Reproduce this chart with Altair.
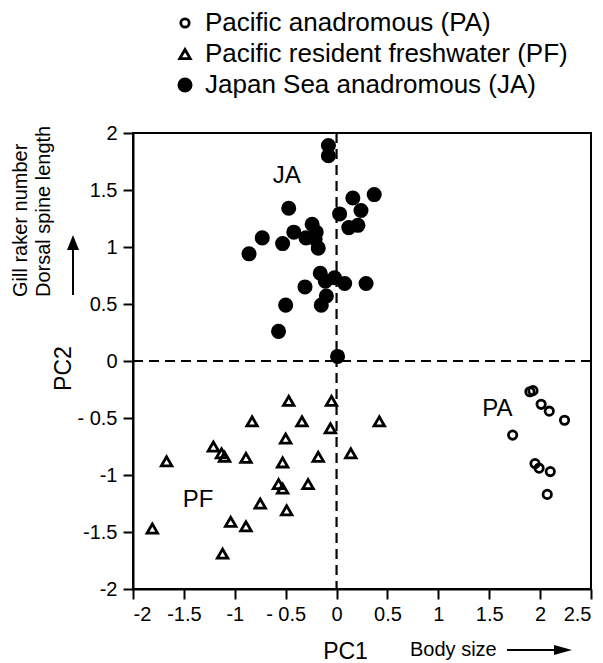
import altair as alt
import pandas as pd

# ---- data ----
groups = ["Pacific anadromous (PA)", "Pacific resident freshwater (PF)", "Japan Sea anadromous (JA)"]

pa_pc1 = [1.90, 1.93, 2.01, 2.09, 2.24, 1.73, 1.95, 1.99, 2.10, 2.07]
pa_pc2 = [-0.27, -0.26, -0.38, -0.44, -0.52, -0.65, -0.90, -0.94, -0.97, -1.17]

pf_pc1 = [-0.47, -0.05, -0.83, -0.34, -0.06, -0.50, 0.42, -1.21, -1.13, -1.10, -1.67, -0.89,
          -0.18, 0.14, -0.53, -0.57, -0.53, -0.28, -0.75, -0.49, -1.81, -1.04, -0.89, -1.12]
pf_pc2 = [-0.35, -0.35, -0.53, -0.53, -0.59, -0.68, -0.53, -0.75, -0.81, -0.84, -0.88, -0.85,
          -0.84, -0.81, -0.89, -1.08, -1.12, -1.08, -1.25, -1.31, -1.47, -1.41, -1.45, -1.69]

ja_pc1 = [-0.08, -0.08, 0.37, 0.16, -0.47, 0.03, 0.24, 0.12, 0.21, -0.24, -0.20, -0.30, -0.21,
          -0.42, -0.73, -0.53, -0.18, -0.86, -0.16, -0.11, -0.02, 0.08, 0.29, -0.31, -0.10,
          -0.15, -0.50, -0.57, 0.01]
ja_pc2 = [1.89, 1.80, 1.46, 1.43, 1.34, 1.29, 1.32, 1.17, 1.19, 1.20, 1.13, 1.08, 1.07,
          1.13, 1.08, 1.03, 0.99, 0.94, 0.77, 0.70, 0.73, 0.68, 0.68, 0.65, 0.57,
          0.49, 0.49, 0.26, 0.04]

group_labels = ["JA", "PF", "PA"]
group_label_pc1 = [-0.49, -1.36, 1.58]
group_label_pc2 = [1.62, -1.22, -0.42]

x_ticks = [-2, -1.5, -1, -0.5, 0, 0.5, 1, 1.5, 2, 2.5]
y_ticks = [-2, -1.5, -1, -0.5, 0, 0.5, 1, 1.5, 2]

# ---- tables ----
df = pd.DataFrame({
    "PC1": pa_pc1 + pf_pc1 + ja_pc1,
    "PC2": pa_pc2 + pf_pc2 + ja_pc2,
    "group": [groups[0]] * len(pa_pc1) + [groups[1]] * len(pf_pc1) + [groups[2]] * len(ja_pc1),
})
zero_df = pd.DataFrame({"PC1": [0], "PC2": [0]})
lab_df = pd.DataFrame({"PC1": group_label_pc1, "PC2": group_label_pc2, "lab": group_labels})

FONT = "Liberation Sans"
label_expr = ("datum.value == -0.5 ? '- 0.5' : "
              "(datum.value < 0 ? '-' + (-datum.value) : '' + datum.value)")

xs = alt.Scale(domain=[-2, 2.5], nice=False, zero=False)
ys = alt.Scale(domain=[-2, 2], nice=False, zero=False)

x_axis = alt.Axis(values=x_ticks, labelExpr=label_expr, title="PC1",
                  titleX=212, titleY=69, titleBaseline="alphabetic", titleAlign="center",
                  titleFontSize=23, titleFontWeight="normal", titleFont=FONT, titleColor="black",
                  labelPadding=5)
y_axis = alt.Axis(values=y_ticks, labelExpr=label_expr, title="PC2",
                  titleX=-63, titleY=235, titleBaseline="alphabetic", titleAlign="center",
                  titleAngle=270, titleFontSize=23, titleFontWeight="normal", titleFont=FONT,
                  titleColor="black", labelPadding=6)

X = alt.X("PC1:Q", scale=xs, axis=x_axis)
Y = alt.Y("PC2:Q", scale=ys, axis=y_axis)


def leg():
    return alt.Legend(title=None, symbolStrokeWidth=2.8,
                      labelLimit=0, labelFontSize=26, labelFont=FONT, labelColor="black")


points = alt.Chart(df).mark_point(opacity=1, strokeWidth=2.8).encode(
    x=X, y=Y,
    shape=alt.Shape("group:N", legend=leg(),
                    scale=alt.Scale(domain=groups, range=["circle", "triangle-up", "circle"])),
    fill=alt.Fill("group:N", legend=leg(),
                  scale=alt.Scale(domain=groups, range=["transparent", "transparent", "black"])),
    stroke=alt.Stroke("group:N", legend=leg(),
                      scale=alt.Scale(domain=groups, range=["black", "black", "black"])),
    size=alt.Size("group:N", legend=leg(),
                  scale=alt.Scale(domain=groups, range=[70, 150, 100])),
)

vline = alt.Chart(zero_df).mark_rule(strokeDash=[10, 6], strokeWidth=2.2, color="black").encode(x=X)
hline = alt.Chart(zero_df).mark_rule(strokeDash=[10, 6], strokeWidth=2.2, color="black").encode(y=Y)

glabels = alt.Chart(lab_df).mark_text(fontSize=24, font=FONT, color="black", baseline="middle").encode(
    x=X, y=Y, text="lab:N")

one = alt.Data(values=[{}])
gill = alt.Chart(one).mark_text(text="Gill raker number", angle=270, align="left", baseline="alphabetic",
                                fontSize=20, font=FONT, color="black").encode(
    x=alt.value(-106), y=alt.value(164))
dorsal = alt.Chart(one).mark_text(text="Dorsal spine length", angle=270, align="left", baseline="alphabetic",
                                  fontSize=20, font=FONT, color="black").encode(
    x=alt.value(-83), y=alt.value(164))
v_shaft = alt.Chart(one).mark_rule(strokeWidth=2, color="black").encode(
    x=alt.value(-60), y=alt.value(162), y2=alt.value(116))
v_head = alt.Chart(one).mark_point(shape="M0,-1L-0.8,1L0.8,1Z", size=225, filled=True,
                                   fill="black", strokeWidth=0, opacity=1).encode(
    x=alt.value(-60), y=alt.value(109.5))
body = alt.Chart(one).mark_text(text="Body size", align="left", baseline="alphabetic",
                                fontSize=20, font=FONT, color="black").encode(
    x=alt.value(277), y=alt.value(523))
h_shaft = alt.Chart(one).mark_rule(strokeWidth=2, color="black").encode(
    x=alt.value(374), x2=alt.value(424), y=alt.value(517))
h_head = alt.Chart(one).mark_point(shape="M1,0L-1,-0.55L-1,0.55Z", size=324, filled=True,
                                   fill="black", strokeWidth=0, opacity=1).encode(
    x=alt.value(430), y=alt.value(517))

chart = alt.layer(
    vline, hline, points, glabels, gill, dorsal, v_shaft, v_head, body, h_shaft, h_head
).properties(
    width=458, height=456,
    autosize=alt.AutoSizeParams(type="none"),
    padding={"left": 125, "top": 125, "right": 4, "bottom": 74},
).configure_view(
    stroke="black", strokeWidth=2
).configure_axis(
    domainColor="black", domainWidth=2, tickColor="black", tickWidth=2, tickSize=10,
    labelFontSize=20, labelFont=FONT, labelColor="black", grid=False,
).configure_legend(
    orient="none", legendX=39, legendY=-123, labelFontSize=26, labelFont=FONT,
    labelColor="black", rowPadding=5, labelOffset=7,
    symbolStrokeWidth=2.8, padding=0, labelLimit=0,
)

chart.save("out.html", embed_options={"renderer": "svg", "actions": False})
